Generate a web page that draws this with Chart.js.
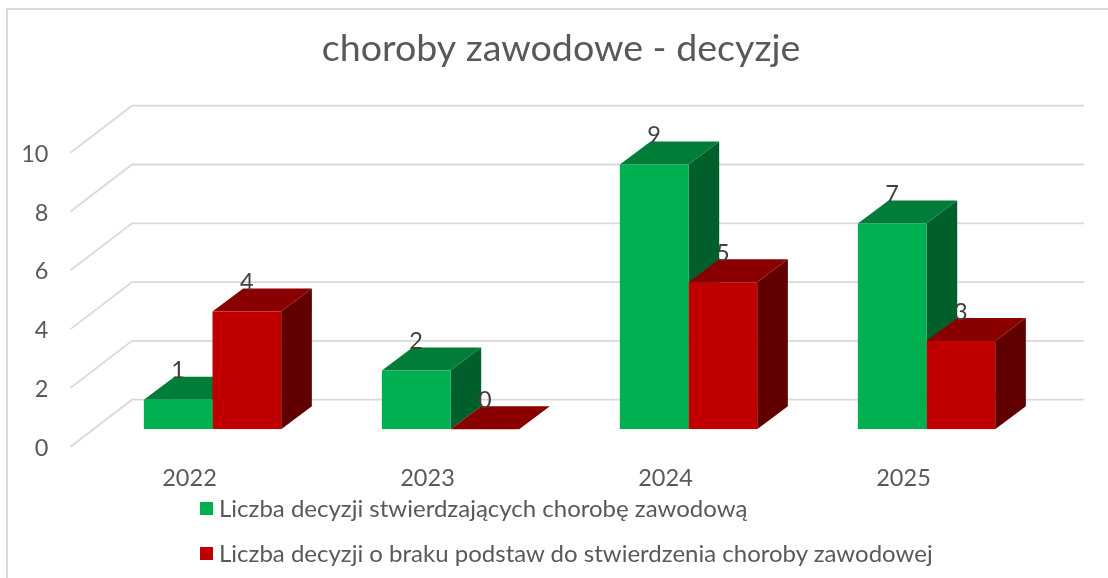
<!DOCTYPE html>
<html lang="pl">
<head>
<meta charset="utf-8">
<title>choroby zawodowe - decyzje</title>
<script src="https://cdn.jsdelivr.net/npm/chart.js@4"></script>
<style>
  html, body { margin: 0; padding: 0; background: #fff; overflow: hidden; }
  #wrap { position: relative; width: 1108px; height: 578px; }
  #legend { position: absolute; left: 200px; top: 484.5px; font: 24px Lato, sans-serif; color: #595959; }
  #legend ul { list-style: none; margin: 0; padding: 0; }
  #legend li { display: flex; align-items: center; height: 45px; white-space: nowrap; }
  #legend .box { display: block; width: 13px; height: 13px; margin-right: 6px; position: relative; top: 1.5px; }
</style>
</head>
<body>
<div id="wrap">
  <canvas id="chart" width="1108" height="578"></canvas>
  <div id="legend"><ul></ul></div>
</div>
<script>
const years = ['2022', '2023', '2024', '2025'];
const confirmed = [1, 2, 9, 7];
const rejected = [4, 0, 5, 3];
const seriesNames = [
  'Liczba decyzji stwierdzających chorobę zawodową',
  'Liczba decyzji o braku podstaw do stwierdzenia choroby zawodowej',
];

const textColor = '#595959';
const labelColor = '#404040';
const gridColor = '#d9d9d9';
const font = { family: 'Lato, sans-serif', size: 23.5 };

// Shades for the fake 3D faces
const faces = [
  { top: '#007d38', side: '#005f2a' },
  { top: '#8a0000', side: '#600000' },
];

// Floor depth, bar offset from the scale's plane, bar depth
const floor = { x: 61.5, y: -47 };
const gridShift = -1.5; // tick labels sit a bit below the line ends
const barShift = { x: 23, y: -19 };
const barDepth = { x: 30.7, y: -23 };

const poly = (ctx, color, pts) => {
  ctx.fillStyle = color;
  ctx.beginPath();
  pts.forEach((p, i) => (i ? ctx.lineTo(p[0], p[1]) : ctx.moveTo(p[0], p[1])));
  ctx.closePath();
  ctx.fill();
};

const frame3d = {
  id: 'frame3d',
  afterLayout(c) {
    // Title sits centred on the outer frame, not on the plot
    c.titleBlock.left = 14;
    c.titleBlock.right = c.width;
  },
  beforeDraw(c) {
    const { ctx } = c;
    ctx.save();
    ctx.strokeStyle = gridColor;
    ctx.lineWidth = 2;
    ctx.beginPath();
    ctx.moveTo(7, c.height);
    ctx.lineTo(7, 9);
    ctx.lineTo(c.width, 9);
    ctx.stroke();
    ctx.restore();
  },
  beforeDatasetsDraw(c) {
    const { ctx, chartArea } = c;
    const yAxis = c.scales.y;
    // Floor and back wall lines
    ctx.save();
    ctx.strokeStyle = gridColor;
    ctx.lineWidth = 1.8;
    yAxis.ticks.forEach((tick) => {
      const y = yAxis.getPixelForValue(tick.value) + gridShift;
      ctx.beginPath();
      ctx.moveTo(chartArea.left, y);
      ctx.lineTo(chartArea.left + floor.x, y + floor.y);
      ctx.lineTo(chartArea.right + floor.x, y + floor.y);
      ctx.stroke();
    });
    ctx.restore();

    // Stays translated until afterDatasetsDraw so the library's bars land on the same plane
    ctx.save();
    ctx.translate(barShift.x, barShift.y);
    years.forEach((year, index) => {
      c.data.datasets.forEach((ds, dsIndex) => {
        const bar = c.getDatasetMeta(dsIndex).data[index];
        const left = bar.x - bar.width / 2;
        const right = bar.x + bar.width / 2;
        const dx = barDepth.x;
        const dy = barDepth.y;
        if (bar.base > bar.y) {
          poly(ctx, faces[dsIndex].side, [[right, bar.y], [right + dx, bar.y + dy], [right + dx, bar.base + dy], [right, bar.base]]);
        }
        poly(ctx, faces[dsIndex].top, [[left, bar.y], [left + dx, bar.y + dy], [right + dx, bar.y + dy], [right, bar.y]]);
      });
    });
  },
  afterDatasetsDraw(c) {
    const { ctx } = c;
    ctx.restore();
    // Value labels
    ctx.save();
    ctx.fillStyle = labelColor;
    ctx.font = `${font.size}px ${font.family}`;
    ctx.textAlign = 'center';
    ctx.textBaseline = 'middle';
    c.data.datasets.forEach((ds, dsIndex) => {
      c.getDatasetMeta(dsIndex).data.forEach((bar, index) => {
        ctx.fillText(ds.data[index], bar.x + barShift.x, bar.y + barShift.y - 29);
      });
    });
    ctx.restore();
  },
};

const htmlLegend = {
  id: 'htmlLegend',
  afterUpdate(c) {
    const ul = document.querySelector('#legend ul');
    while (ul.firstChild) ul.firstChild.remove();
    c.options.plugins.legend.labels.generateLabels(c).forEach((item) => {
      const li = document.createElement('li');
      const box = document.createElement('span');
      box.className = 'box';
      box.style.background = item.fillStyle;
      const label = document.createElement('span');
      label.textContent = item.text;
      li.appendChild(box);
      li.appendChild(label);
      ul.appendChild(li);
    });
  },
};

new Chart(document.getElementById('chart'), {
  type: 'bar',
  data: {
    labels: years,
    datasets: [
      { label: seriesNames[0], data: confirmed, backgroundColor: '#00b050', categoryPercentage: 0.577, barPercentage: 1 },
      { label: seriesNames[1], data: rejected, backgroundColor: '#c00000', categoryPercentage: 0.577, barPercentage: 1 },
    ],
  },
  options: {
    responsive: false,
    animation: false,
    layout: { padding: { top: 0, left: 0, right: 85.5, bottom: 79.8 } },
    scales: {
      x: {
        border: { display: false },
        grid: { display: false, drawTicks: false },
        ticks: { color: textColor, font, padding: 16.5, maxRotation: 0 },
        afterFit: (scale) => { scale.height = 50; },
      },
      y: {
        min: 0,
        max: 10,
        border: { display: false },
        grid: { display: false, drawTicks: false },
        ticks: { color: textColor, font, padding: 22, stepSize: 2 },
        afterFit: (scale) => { scale.width = 70.5; },
      },
    },
    plugins: {
      legend: { display: false },
      tooltip: { enabled: false },
      title: {
        display: true,
        text: 'choroby zawodowe - decyzje',
        color: textColor,
        font: { family: 'Lato, sans-serif', size: 37.6, weight: 'normal' },
        padding: { top: 26.5, bottom: 82.6 },
      },
    },
  },
  plugins: [frame3d, htmlLegend],
});
</script>
</body>
</html>
